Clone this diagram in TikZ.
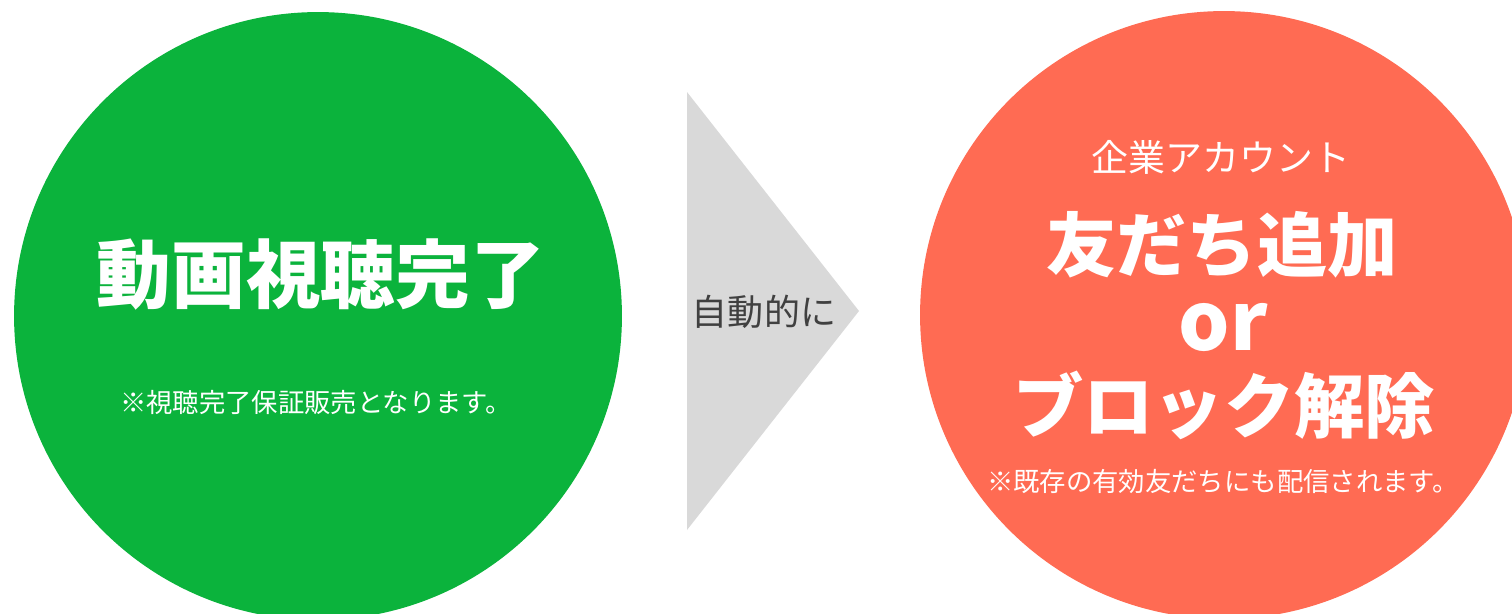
\documentclass[tikz,border=0pt]{standalone}
\usepackage{fontspec}
\setmainfont{Noto Sans CJK JP}
\usetikzlibrary{positioning}
\definecolor{vertC}{HTML}{0BB33C}
\definecolor{orangeC}{HTML}{FF6B53}
\definecolor{grisF}{HTML}{D9D9D9}
\definecolor{grisT}{HTML}{404040}
\tikzset{
  rond/.style={circle, fill=#1, inner sep=0pt, minimum size=12.16cm},
  titre/.style={text=white, inner sep=0pt, font=\fontsize{40}{44}\selectfont\bfseries},
  sous/.style={text=white, inner sep=0pt, font=\fontsize{21}{24}\selectfont},
  note/.style={text=white, inner sep=0pt, font=\fontsize{15}{18}\selectfont},
}
\begin{document}
\begin{tikzpicture}[x=0.02cm, y=-0.02cm]
        \useasboundingbox (0,0) rectangle (1512,613);
        \clip (0,0) rectangle (1512,613);
        % cercles
        \node[rond=vertC] (vue) at (318,316) {};
        \node[rond=orangeC] (ami) at (1224,315) {};
        % fleche
        \coordinate (fh) at (687,92);
        \coordinate (fb) at (687,530);
        \coordinate (fp) at (859,311);
        \fill[grisF] (fh) -- (fp) -- (fb) -- cycle;
        \node[text=grisT, inner sep=0pt, font=\fontsize{20.5}{24}\selectfont] (auto) at (764,312) {自動的に};
        % textes gauche
        \node[titre, font=\fontsize{42.5}{46}\selectfont\bfseries] (vueT) at (321,274) {動画視聴完了};
        \node[note] (vueN) at (316,403) {※視聴完了保証販売となります。};
        % textes droite
        \node[sous] (amiS) at (1221,157) {企業アカウント};
        \node[titre] (amiA) at (1222,245) {友だち追加};
        \node[titre, font=\fontsize{46}{50}\selectfont\bfseries] (amiO) at (1223,327) {or};
        \node[titre] (amiB) at (1224,405) {ブロック解除};
        \node[note] (amiN) at (1223,482) {※既存の有効友だちにも配信されます。};
      \end{tikzpicture}
\end{document}
